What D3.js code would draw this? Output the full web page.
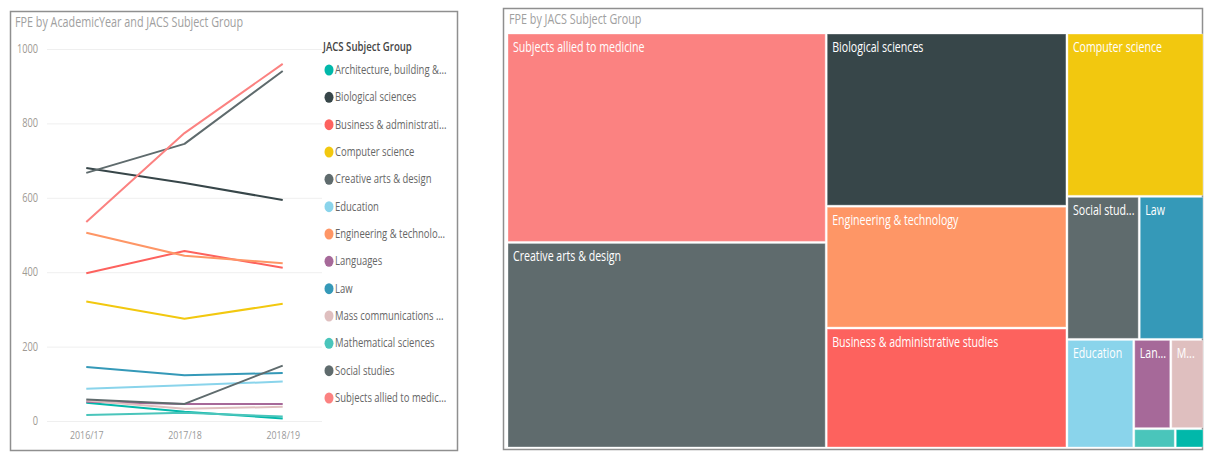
<!DOCTYPE html>
<html>
<head>
<meta charset="utf-8">
<script src="https://cdn.jsdelivr.net/npm/d3@7"></script>
<style>
  body { margin: 0; background: #fff; }
  svg { display: block; font-family: "Open Sans", sans-serif; }
</style>
</head>
<body>
<div id="chart"></div>
<script>
// Academic years on the x axis
const years = ["2016/17", "2017/18", "2018/19"];

// Subject groups, in legend order
const subjects = [
  "Architecture, building & planning",
  "Biological sciences",
  "Business & administrative studies",
  "Computer science",
  "Creative arts & design",
  "Education",
  "Engineering & technology",
  "Languages",
  "Law",
  "Mass communications & documentation",
  "Mathematical sciences",
  "Social studies",
  "Subjects allied to medicine"
];

const subjectColors = [
  "#01B8AA", "#374649", "#FD625E", "#F2C80F", "#5F6B6D", "#8AD4EB", "#FE9666",
  "#A66999", "#3599B8", "#DFBFBF", "#4AC5BB", "#5F6B6D", "#FB8281"
];

// FPE per year, one array per subject group
const architecture = [49, 25, 7];
const biological = [680, 640, 594];
const business = [397, 457, 412];
const computer = [321, 275, 315];
const creativeArts = [667, 745, 941];
const education = [87, 96, 106];
const engineering = [506, 444, 424];
const languages = [52, 46, 46];
const law = [145, 123, 129];
const massComms = [55, 33, 38];
const mathematical = [16, 22, 12];
const socialStudies = [58, 46, 149];
const alliedMedicine = [535, 774, 960];

const yTicks = [0, 200, 400, 600, 800, 1000];

// FPE totals shown in the treemap
const treemapSubjects = [
  "Subjects allied to medicine", "Creative arts & design", "Biological sciences",
  "Engineering & technology", "Business & administrative studies", "Computer science",
  "Social studies", "Law", "Education", "Languages",
  "Mass communications & documentation", "Mathematical sciences",
  "Architecture, building & planning"
];
const treemapFPE = [2165, 2125, 1350, 950, 935, 725, 335, 300, 235, 107, 96, 26, 18];

// condensed look of the original font
const SX = 0.77;

const series = [architecture, biological, business, computer, creativeArts, education,
  engineering, languages, law, massComms, mathematical, socialStudies, alliedMedicine]
  .map((values, i) => ({ name: subjects[i], color: subjectColors[i], values }));

const colorOf = (name) => subjectColors[subjects.indexOf(name)];

const svg = d3.select("#chart").append("svg")
  .attr("width", 1205)
  .attr("height", 454);

// text helper, squeezes glyphs horizontally
function label(parent, x, y, str) {
  return parent.append("g")
    .attr("transform", `translate(${x},${y}) scale(${SX},1)`)
    .append("text")
    .text(str);
}

// shorten a text node until it fits maxWidth
function fitText(textSel, full, maxWidth) {
  const node = textSel.node();
  textSel.text(full);
  if (node.getComputedTextLength() * SX <= maxWidth) return true;
  let s = full;
  while (s.length > 0) {
    s = s.slice(0, -1);
    textSel.text(s + "...");
    if (node.getComputedTextLength() * SX <= maxWidth) return true;
  }
  return false;
}

// ---------------- Line chart ----------------
const left = svg.append("g");

left.append("rect")
  .attr("x", 10.5).attr("y", 11.5)
  .attr("width", 447).attr("height", 439)
  .attr("fill", "#fff")
  .attr("stroke", "#8f8f8f")
  .attr("stroke-width", 1.5);

label(left, 15, 27, "FPE by AcademicYear and JACS Subject Group")
  .attr("font-size", 14)
  .attr("fill", "#a0a0a0");

const x = d3.scalePoint().domain(years).range([47, 322]).padding(0.4);
const y = d3.scaleLinear().domain([0, 1000]).range([421, 49]);

// gridlines
left.append("g")
  .attr("transform", "translate(47,0)")
  .call(d3.axisLeft(y).tickValues(yTicks).tickSize(-275).tickFormat(""))
  .call((g) => g.select(".domain").remove())
  .selectAll("line")
  .attr("stroke", "#efefef");

// y tick labels
yTicks.forEach((t) => {
  label(left, 38, y(t) + 4, t)
    .attr("font-size", 12)
    .attr("text-anchor", "end")
    .attr("fill", "#a09a94");
});

// x axis
left.append("g")
  .attr("transform", "translate(0,421)")
  .call(d3.axisBottom(x).tickSize(0).tickPadding(10))
  .call((g) => g.select(".domain").remove())
  .selectAll("text")
  .attr("font-family", "Open Sans, sans-serif")
  .attr("font-size", 11.5)
  .attr("fill", "#9a9a9a")
  .attr("transform", `scale(${SX},1)`);

const line = d3.line()
  .x((d, i) => x(years[i]))
  .y((d) => y(d));

left.selectAll(".series")
  .data(series)
  .enter()
  .append("path")
  .attr("class", "series")
  .attr("d", (d) => line(d.values))
  .attr("fill", "none")
  .attr("stroke", (d) => d.color)
  .attr("stroke-width", 2)
  .attr("stroke-linejoin", "round");

// legend
label(left, 323, 51, "JACS Subject Group")
  .attr("font-size", 12.5)
  .attr("font-weight", 600)
  .attr("fill", "#444");

const legendY = d3.scalePoint().domain(subjects).range([70, 398]);

series.forEach((s) => {
  const cy = legendY(s.name);
  left.append("ellipse")
    .attr("cx", 329).attr("cy", cy)
    .attr("rx", 4.5).attr("ry", 5.5)
    .attr("fill", s.color);
  const t = label(left, 335, cy + 4, s.name)
    .attr("font-size", 12.3)
    .attr("fill", "#666");
  fitText(t, s.name, 112);
});

// ---------------- Treemap ----------------
const right = svg.append("g");

right.append("rect")
  .attr("x", 503.5).attr("y", 8.5)
  .attr("width", 699).attr("height", 441)
  .attr("fill", "#fff")
  .attr("stroke", "#8f8f8f")
  .attr("stroke-width", 1.5);

label(right, 509, 24, "FPE by JACS Subject Group")
  .attr("font-size", 14)
  .attr("fill", "#a0a0a0");

const leaf = (name) => ({ name, value: treemapFPE[treemapSubjects.indexOf(name)] });

// nesting that reproduces the column layout of the report
const tree = {
  children: [
    { children: [leaf("Subjects allied to medicine"), leaf("Creative arts & design")] },
    { children: [leaf("Biological sciences"), leaf("Engineering & technology"),
                 leaf("Business & administrative studies")] },
    { children: [
      leaf("Computer science"),
      { children: [leaf("Social studies"), leaf("Law")] },
      { children: [
        leaf("Education"),
        { children: [
          { children: [leaf("Languages"), leaf("Mass communications & documentation")] },
          { children: [leaf("Mathematical sciences"), leaf("Architecture, building & planning")] }
        ] }
      ] }
    ] }
  ]
};

const root = d3.hierarchy(tree).sum((d) => d.value || 0);

d3.treemap()
  .tile(d3.treemapSliceDice)
  .size([695, 413])
  .paddingInner(2)(root);

const cells = right.append("g")
  .attr("transform", "translate(508,34)")
  .selectAll("g")
  .data(root.leaves())
  .enter()
  .append("g")
  .attr("transform", (d) => `translate(${d.x0},${d.y0})`);

cells.append("rect")
  .attr("width", (d) => d.x1 - d.x0)
  .attr("height", (d) => d.y1 - d.y0)
  .attr("fill", (d) => colorOf(d.data.name))
  .attr("stroke", "rgba(255,255,255,0.35)")
  .attr("stroke-width", 1);

cells.each(function (d) {
  const w = d.x1 - d.x0, h = d.y1 - d.y0;
  if (h < 25) return;
  const t = label(d3.select(this), 5, 18, d.data.name)
    .attr("font-size", 13.8)
    .attr("fill", "#fff");
  if (!fitText(t, d.data.name, w - 8)) t.remove();
});
</script>
</body>
</html>
